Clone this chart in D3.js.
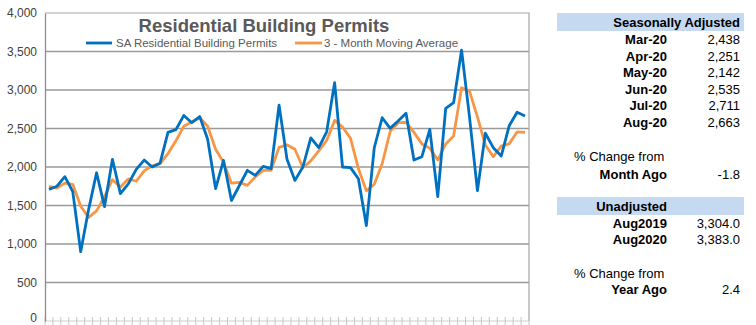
<!DOCTYPE html>
<html><head><meta charset="utf-8">
<script src="https://cdn.jsdelivr.net/npm/d3@7"></script>
<style>
html,body{margin:0;padding:0;background:#fff;}
svg{display:block;font-family:"Liberation Sans",Arial,sans-serif;}
</style></head>
<body><svg id="c" width="756" height="325"></svg>
<script>
const months = ["Aug-15","Sep-15","Oct-15","Nov-15","Dec-15",
"Jan-16","Feb-16","Mar-16","Apr-16","May-16","Jun-16","Jul-16","Aug-16","Sep-16","Oct-16","Nov-16","Dec-16",
"Jan-17","Feb-17","Mar-17","Apr-17","May-17","Jun-17","Jul-17","Aug-17","Sep-17","Oct-17","Nov-17","Dec-17",
"Jan-18","Feb-18","Mar-18","Apr-18","May-18","Jun-18","Jul-18","Aug-18","Sep-18","Oct-18","Nov-18","Dec-18",
"Jan-19","Feb-19","Mar-19","Apr-19","May-19","Jun-19","Jul-19","Aug-19","Sep-19","Oct-19","Nov-19","Dec-19",
"Jan-20","Feb-20","Mar-20","Apr-20","May-20","Jun-20","Jul-20","Aug-20"];
const saPermits = [1710,1750,1875,1680,900,1450,1925,1485,2100,1655,1780,1970,2090,2000,2050,2450,2485,2670,2575,2655,2360,1720,2085,1565,1760,1957,1891,2009,1978,2804,2100,1826,2000,2378,2252,2457,3096,2000,1991,1848,1239,2250,2640,2502,2597,2697,2091,2134,2489,1615,2762,2835,3519,2650,1692,2438,2251,2142,2535,2711,2663];
const movingAvg = [1750,1725,1790,1775,1490,1345,1430,1615,1835,1740,1845,1815,1950,2015,2045,2175,2340,2530,2585,2640,2530,2230,2060,1790,1800,1761,1870,1955,1957,2255,2288,2230,1990,2080,2210,2345,2605,2520,2375,1980,1690,1776,2045,2460,2575,2580,2450,2300,2245,2090,2300,2403,3030,2985,2650,2286,2134,2270,2300,2455,2450];
const yTicks = [0,500,1000,1500,2000,2500,3000,3500,4000];
const seriesNames = ["SA Residential Building Permits","3 - Month Moving Average"];
const seriesColors = ["#0070C0","#F79646"];
const title = "Residential Building Permits";

const saLabels = ["Mar-20","Apr-20","May-20","Jun-20","Jul-20","Aug-20"];
const saValues = ["2,438","2,251","2,142","2,535","2,711","2,663"];
const monthChange = "-1.8";
const unadjLabels = ["Aug2019","Aug2020"];
const unadjValues = ["3,304.0","3,383.0"];
const yearChange = "2.4";

const svg = d3.select("#c");
const L = 45, R = 529, T = 13, B = 321;
const x = d3.scaleBand().domain(months).range([L, R]).padding(0);
const y = d3.scaleLinear().domain([0, 4000]).range([B, T]);
const cx = m => x(m) + x.bandwidth() / 2;

// gridlines
svg.append("g").selectAll("line").data(yTicks.filter(d => d > 0 && d < 4000)).join("line")
  .attr("x1", L).attr("x2", R).attr("y1", d => y(d)).attr("y2", d => y(d))
  .attr("stroke", "#9a9a9a").attr("stroke-width", 1.3);

// plot border (top/right)
svg.append("path").attr("d", `M${L},${y(4000)}H${R}V${B}`)
  .attr("fill", "none").attr("stroke", "#a6a6a6").attr("stroke-width", 1.2);

// bottom axis with boundary ticks
svg.append("line").attr("x1", L).attr("x2", R).attr("y1", B).attr("y2", B)
  .attr("stroke", "#d0d0d0").attr("stroke-width", 1);
const bounds = months.map(m => x(m)).concat([R]);
svg.append("g").selectAll("line").data(bounds).join("line")
  .attr("x1", d => d).attr("x2", d => d).attr("y1", B - 4).attr("y2", B + 4)
  .attr("stroke", "#c8c8c8").attr("stroke-width", 1);

// left axis
const ya = d3.axisLeft(y).tickValues(yTicks).tickFormat(d3.format(",")).tickSize(0).tickPadding(8);
const yg = svg.append("g").attr("transform", `translate(${L},0)`).call(ya);
yg.select(".domain").attr("stroke", "#8c8c8c").attr("stroke-width", 1.3);
yg.selectAll("text").attr("font-size", 12).attr("fill", "#404040")
  .attr("font-family", "'Liberation Sans', Arial, sans-serif")
  .attr("dy", d => d === 0 ? "0.05em" : "0.32em");

// lines
const line = d3.line().x((d, i) => cx(months[i])).y(d => y(d));
svg.append("path").datum(movingAvg).attr("d", line).attr("fill", "none")
  .attr("stroke", seriesColors[1]).attr("stroke-width", 2.8).attr("stroke-linejoin", "round");
svg.append("path").datum(saPermits).attr("d", line).attr("fill", "none")
  .attr("stroke", seriesColors[0]).attr("stroke-width", 2.8).attr("stroke-linejoin", "round");

// title
svg.append("text").attr("x", 264).attr("y", 32).attr("text-anchor", "middle")
  .attr("font-size", 18.5).attr("font-weight", "bold").attr("fill", "#595959").text(title);

// legend
const leg = [{x1: 86, x2: 112, tx: 116}, {x1: 295, x2: 322, tx: 324}];
leg.forEach((l, i) => {
  svg.append("line").attr("x1", l.x1).attr("x2", l.x2).attr("y1", 43).attr("y2", 43)
    .attr("stroke", seriesColors[i]).attr("stroke-width", 2.8);
  svg.append("text").attr("x", l.tx).attr("y", 47).attr("font-size", 11.5)
    .attr("fill", "#595959").text(seriesNames[i]);
});

// right table
const tg = svg.append("g").attr("font-size", 13).attr("fill", "#000");
const labX = 667, valX = 740;
tg.append("rect").attr("x", 557).attr("y", 13).attr("width", 187).attr("height", 18).attr("fill", "#C5D9F1");
tg.append("text").attr("x", valX).attr("y", 27).attr("text-anchor", "end").attr("font-weight", "bold").text("Seasonally Adjusted");
saLabels.forEach((lab, i) => {
  const yy = 44 + i * 16.5;
  tg.append("text").attr("x", labX).attr("y", yy).attr("text-anchor", "end").attr("font-weight", "bold").text(lab);
  tg.append("text").attr("x", valX).attr("y", yy).attr("text-anchor", "end").text(saValues[i]);
});
tg.append("text").attr("x", 574).attr("y", 161).text("% Change from");
tg.append("text").attr("x", labX).attr("y", 178.5).attr("text-anchor", "end").attr("font-weight", "bold").text("Month Ago");
tg.append("text").attr("x", valX).attr("y", 178.5).attr("text-anchor", "end").text(monthChange);

tg.append("rect").attr("x", 557).attr("y", 197).attr("width", 187).attr("height", 18).attr("fill", "#C5D9F1");
tg.append("text").attr("x", labX).attr("y", 211).attr("text-anchor", "end").attr("font-weight", "bold").text("Unadjusted");
unadjLabels.forEach((lab, i) => {
  const yy = 228 + i * 16;
  tg.append("text").attr("x", labX).attr("y", yy).attr("text-anchor", "end").attr("font-weight", "bold").text(lab);
  tg.append("text").attr("x", valX).attr("y", yy).attr("text-anchor", "end").text(unadjValues[i]);
});
tg.append("text").attr("x", 574).attr("y", 278).text("% Change from");
tg.append("text").attr("x", labX).attr("y", 294).attr("text-anchor", "end").attr("font-weight", "bold").text("Year Ago");
tg.append("text").attr("x", valX).attr("y", 294).attr("text-anchor", "end").text(yearChange);
</script></body></html>
